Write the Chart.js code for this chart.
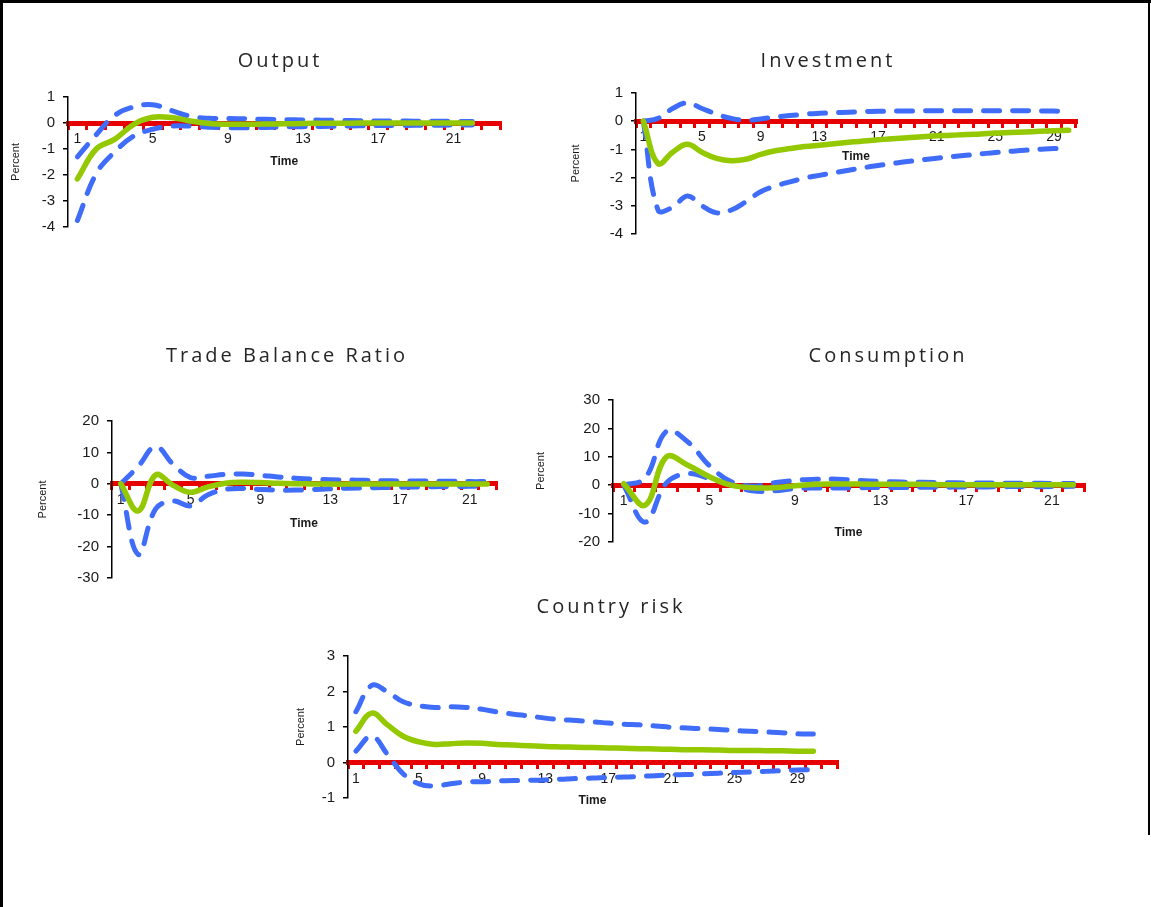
<!DOCTYPE html>
<html>
<head>
<meta charset="utf-8">
<script src="https://cdn.jsdelivr.net/npm/chart.js@4.4.1/dist/chart.umd.min.js"></script>
<style>
    html, body { margin: 0; padding: 0; background: #fff; }
    #page { position: relative; width: 1151px; height: 907px; overflow: hidden; background: #fff; }
    #page canvas { position: absolute; }
    .line { position: absolute; background: #000; }
</style>
</head>
<body>
<div id="page">
    <div class="line" style="left:0;top:0;width:1151px;height:3px"></div>
    <div class="line" style="left:0;top:0;width:3px;height:907px"></div>
    <div class="line" style="left:1148px;top:0;width:2px;height:835px"></div>
    <canvas id="outputChart" width="550" height="204" style="left:5px;top:40px"></canvas>
    <canvas id="investChart" width="526" height="211" style="left:565px;top:40px"></canvas>
    <canvas id="tradeChart" width="510" height="260" style="left:32px;top:335px"></canvas>
    <canvas id="consChart" width="566" height="224" style="left:530px;top:335px"></canvas>
    <canvas id="riskChart" width="560" height="229" style="left:290px;top:586px"></canvas>
</div>
<script>
const time22 = [1, 2, 3, 4, 5, 6, 7, 8, 9, 10, 11, 12, 13, 14, 15, 16, 17, 18, 19, 20, 21, 22];
const time23 = [1, 2, 3, 4, 5, 6, 7, 8, 9, 10, 11, 12, 13, 14, 15, 16, 17, 18, 19, 20, 21, 22, 23];
const time30 = [1, 2, 3, 4, 5, 6, 7, 8, 9, 10, 11, 12, 13, 14, 15, 16, 17, 18, 19, 20, 21, 22, 23, 24, 25, 26, 27, 28, 29, 30];
const time31 = [1, 2, 3, 4, 5, 6, 7, 8, 9, 10, 11, 12, 13, 14, 15, 16, 17, 18, 19, 20, 21, 22, 23, 24, 25, 26, 27, 28, 29, 30, 31];

// Output
const outputMid = [-2.15, -1.0, -0.62, -0.05, 0.22, 0.21, 0.08, -0.02, -0.05, -0.05, -0.04, -0.03, -0.02, -0.01, -0.01, 0, 0, 0, 0, 0, 0, 0];
const outputUpper = [-1.3, -0.45, 0.3, 0.62, 0.7, 0.48, 0.26, 0.18, 0.17, 0.16, 0.14, 0.13, 0.12, 0.11, 0.1, 0.09, 0.08, 0.08, 0.07, 0.07, 0.06, 0.06];
const outputLower = [-3.75, -1.95, -1.1, -0.5, -0.24, -0.12, -0.12, -0.16, -0.18, -0.18, -0.17, -0.15, -0.14, -0.13, -0.12, -0.11, -0.1, -0.1, -0.09, -0.09, -0.08, -0.08];

// Investment
const investMid = [0, -1.5, -1.1, -0.82, -1.1, -1.32, -1.4, -1.35, -1.18, -1.05, -0.97, -0.9, -0.85, -0.8, -0.75, -0.7, -0.66, -0.62, -0.59, -0.55, -0.52, -0.5, -0.47, -0.45, -0.42, -0.4, -0.38, -0.36, -0.34, -0.32];
const investUpper = [0, 0.1, 0.45, 0.65, 0.45, 0.25, 0.1, 0.03, 0.08, 0.15, 0.2, 0.25, 0.28, 0.3, 0.32, 0.34, 0.35, 0.36, 0.36, 0.37, 0.37, 0.37, 0.37, 0.37, 0.37, 0.37, 0.37, 0.36, 0.36, 0.34];
const investLower = [0, -3.15, -3.05, -2.65, -3.0, -3.25, -3.15, -2.85, -2.5, -2.3, -2.15, -2.02, -1.92, -1.83, -1.74, -1.65, -1.57, -1.5, -1.43, -1.37, -1.31, -1.26, -1.21, -1.16, -1.11, -1.07, -1.03, -1.0, -0.97, -0.93];

// Trade Balance Ratio
const tradeMid = [0, -8.6, 2.8, -0.5, -2.7, -1.0, 0.2, 0.5, 0.4, 0.2, 0.05, -0.05, -0.1, -0.1, -0.1, -0.1, -0.1, -0.1, -0.1, -0.1, -0.1, -0.1];
const tradeUpper = [0, 5.5, 11.8, 6.2, 2.0, 2.4, 3.0, 3.1, 2.7, 2.2, 1.8, 1.5, 1.3, 1.2, 1.1, 1.0, 0.9, 0.9, 0.8, 0.8, 0.7, 0.7];
const tradeLower = [0, -22.5, -8.0, -5.5, -7.0, -3.5, -1.8, -1.5, -1.8, -2.0, -2.0, -1.8, -1.6, -1.4, -1.3, -1.2, -1.1, -1.0, -0.9, -0.9, -0.8, -0.8];

// Consumption
const consMid = [0.5, -7.0, 10.0, 7.0, 3.0, 0, -0.9, -0.9, -0.2, 0.3, 0.4, 0.4, 0.3, 0.3, 0.3, 0.2, 0.2, 0.2, 0.2, 0.2, 0.2, 0.2];
const consUpper = [0, 2.5, 19.0, 15.2, 6.9, 1.3, -0.3, 0.8, 1.7, 2.1, 2.1, 1.7, 1.3, 1.1, 1.0, 0.9, 0.8, 0.8, 0.7, 0.7, 0.6, 0.6];
const consLower = [0, -13.0, 0.8, 4.1, 2.4, 0.2, -2.0, -2.0, -1.2, -1.0, -1.0, -0.9, -0.8, -0.8, -0.7, -0.7, -0.6, -0.6, -0.5, -0.5, -0.5, -0.4];

// Country risk
const riskMid = [0.88, 1.39, 1.06, 0.74, 0.58, 0.51, 0.53, 0.55, 0.54, 0.51, 0.49, 0.47, 0.45, 0.44, 0.43, 0.42, 0.41, 0.4, 0.39, 0.38, 0.37, 0.36, 0.36, 0.35, 0.34, 0.34, 0.33, 0.33, 0.32, 0.32];
const riskUpper = [1.43, 2.17, 1.99, 1.71, 1.6, 1.55, 1.57, 1.55, 1.5, 1.42, 1.36, 1.31, 1.25, 1.21, 1.18, 1.15, 1.11, 1.08, 1.06, 1.03, 0.99, 0.97, 0.95, 0.93, 0.9, 0.88, 0.86, 0.84, 0.81, 0.8];
const riskLower = [0.32, 0.74, 0.23, -0.32, -0.6, -0.66, -0.6, -0.55, -0.54, -0.52, -0.51, -0.5, -0.49, -0.47, -0.45, -0.44, -0.42, -0.41, -0.39, -0.37, -0.35, -0.34, -0.32, -0.3, -0.28, -0.27, -0.25, -0.23, -0.21, -0.2];

const GREEN = "#94C800";
const BLUE = "#3F6CF8";
const RED = "#E60000";
const INK = "#1a1a1a";

// spaced-out panel title, drawn on the canvas
const panelTitle = {
    id: "panelTitle",
    afterDraw(chart, args, opts) {
        const ctx = chart.ctx;
        ctx.save();
        ctx.font = '20px "Open Sans"';
        ctx.fillStyle = "#262626";
        ctx.textAlign = "center";
        ctx.textBaseline = "middle";
        if ("letterSpacing" in ctx) ctx.letterSpacing = "3px";
        ctx.fillText(opts.text, opts.x, opts.y);
        ctx.restore();
    }
};

function panel(id, p) {
    const canvas = document.getElementById(id);
    new Chart(canvas, {
        type: "line",
        data: {
            labels: p.labels,
            datasets: [
                { data: p.mid, borderColor: GREEN, borderWidth: 5.5, tension: 0.4, pointRadius: 0, borderCapStyle: "round" },
                { data: p.upper, borderColor: BLUE, borderWidth: 5, tension: 0.4, pointRadius: 0, borderDash: [16, 13], borderCapStyle: "round" },
                { data: p.lower, borderColor: BLUE, borderWidth: 5, tension: 0.4, pointRadius: 0, borderDash: [16, 13], borderCapStyle: "round" }
            ]
        },
        options: {
            responsive: false,
            animation: false,
            layout: { padding: { left: 0, top: p.padTop, right: p.padRight, bottom: 12 } },
            plugins: {
                legend: { display: false },
                tooltip: { enabled: false },
                panelTitle: { text: p.title, x: p.titleX, y: 21 }
            },
            scales: {
                x: {
                    position: { y: 0 },
                    offset: true,
                    border: { color: RED, width: 5 },
                    grid: { drawOnChartArea: false, drawTicks: true, tickLength: 4, color: RED, lineWidth: 3, offset: true },
                    ticks: {
                        autoSkip: false,
                        maxRotation: 0,
                        padding: 4,
                        color: INK,
                        font: { family: "Liberation Sans", size: 14 },
                        callback: function (value, index) {
                            return index % 4 === 0 ? String(p.labels[index]) : "";
                        }
                    },
                    title: {
                        display: true,
                        text: "Time",
                        color: INK,
                        font: { family: "Liberation Sans", size: 12, weight: "bold" },
                        padding: { top: p.timePad, bottom: 0 }
                    }
                },
                y: {
                    position: "left",
                    min: p.min,
                    max: p.max,
                    afterFit: function (scale) { scale.width = p.yWidth; },
                    border: { color: "#000", width: 1.5 },
                    grid: { drawOnChartArea: false, drawTicks: true, tickLength: 5, color: "#000", lineWidth: 1.5 },
                    ticks: {
                        stepSize: p.step,
                        padding: 8,
                        color: INK,
                        font: { family: "Liberation Sans", size: 15 }
                    },
                    title: {
                        display: true,
                        text: "Percent",
                        color: INK,
                        font: { family: "Liberation Sans", size: 11 },
                        padding: { top: 4, bottom: 0 }
                    }
                }
            }
        },
        plugins: [panelTitle]
    });
}

panel("outputChart", {
    title: "Output", titleX: 275, labels: time23,
    mid: outputMid, upper: outputUpper, lower: outputLower,
    min: -4, max: 1, step: 1, yWidth: 63, padTop: 57, padRight: 54.5, timePad: 3
});

panel("investChart", {
    title: "Investment", titleX: 263, labels: time30,
    mid: investMid, upper: investUpper, lower: investLower,
    min: -4, max: 1, step: 1, yWidth: 71, padTop: 53, padRight: 15, timePad: -1
});

panel("tradeChart", {
    title: "Trade Balance Ratio", titleX: 255, labels: time22,
    mid: tradeMid, upper: tradeUpper, lower: tradeLower,
    min: -30, max: 20, step: 10, yWidth: 80, padTop: 86, padRight: 46, timePad: 4
});

panel("consChart", {
    title: "Consumption", titleX: 358, labels: time22,
    mid: consMid, upper: consUpper, lower: consLower,
    min: -20, max: 30, step: 10, yWidth: 83, padTop: 65, padRight: 12, timePad: 11
});

panel("riskChart", {
    title: "Country risk", titleX: 321, labels: time31,
    mid: riskMid, upper: riskUpper, lower: riskLower,
    min: -1, max: 3, step: 1, yWidth: 58, padTop: 70, padRight: 13, timePad: 2
});
</script>
</body>
</html>
